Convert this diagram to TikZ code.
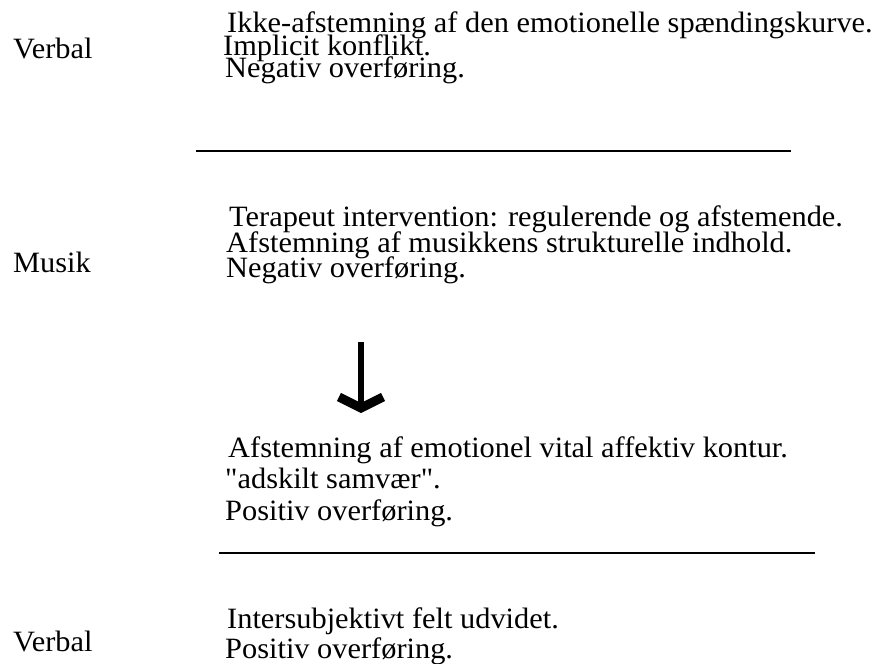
\documentclass[tikz,border=0pt]{standalone}
\usepackage{fontspec}
\setmainfont{Liberation Serif}[FakeStretch=1.03,Ligatures=TeXOff]
\usetikzlibrary{arrows.meta}
\begin{document}
\begin{tikzpicture}[x=1pt,y=-1pt,
  txt/.style={anchor=base west,inner sep=0pt,font=\fontsize{29.5}{29.5}\selectfont},
  rule/.style={line width=2.6pt},
  flow/.style={line width=5.5pt,-{Straight Barb[length=11pt,width=44pt,line width=9pt]}}]
\useasboundingbox (0,0) rectangle (884,664);
\fill[white] (0,0) rectangle (884,664);

% level labels
\node[txt] (lv1) at (13,58) {Verbal};
\node[txt] (lv2) at (13,272) {Musik};
\node[txt] (lv3) at (13,651) {Verbal};

% first verbal phase
\node[txt] (a1) at (227,32) {Ikke-afstemning af den emotionelle spændingskurve.};
\node[txt] (a2) at (223,55) {Implicit konflikt.};
\node[txt] (a3) at (225,77) {Negativ overføring.};

\coordinate (r1a) at (196,151);
\coordinate (r1b) at (791,151);
\draw[rule] (r1a) -- (r1b);

% music phase
\node[txt] (b1) at (229,226) {Terapeut intervention: regulerende og afstemende.};
\node[txt] (b2) at (226,252) {Afstemning af musikkens strukturelle indhold.};
\node[txt] (b3) at (226,277) {Negativ overføring.};

\coordinate (f1) at (361,342);
\coordinate (f2) at (361,413);
\draw[flow] (f1) -- (f2);

\node[txt] (c1) at (228,457) {Afstemning af emotionel vital affektiv kontur.};
\node[txt] (c2) at (225,488) {"adskilt samvær".};
\node[txt] (c3) at (225,520) {Positiv overføring.};

\coordinate (r2a) at (219,553);
\coordinate (r2b) at (815,553);
\draw[rule] (r2a) -- (r2b);

% second verbal phase
\node[txt] (d1) at (227,628) {Intersubjektivt felt udvidet.};
\node[txt] (d2) at (225,658) {Positiv overføring.};
\end{tikzpicture}
\end{document}
